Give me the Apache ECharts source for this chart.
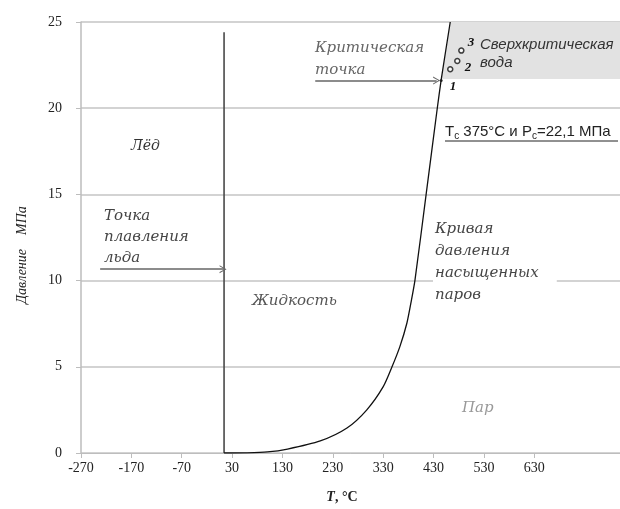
<!DOCTYPE html>
<html>
<head>
<meta charset="utf-8">
<script src="https://cdn.jsdelivr.net/npm/echarts@6/dist/echarts.min.js"></script>
<style>
  html, body { margin: 0; padding: 0; background: #fff; }
  #chart { width: 620px; height: 509px; }
</style>
</head>
<body>
<div id="chart"></div>
<script>
const xTicks = [-270, -170, -70, 30, 130, 230, 330, 430, 530, 630]
// saturated vapour pressure curve: T in °C, P in MPa
const curveT = [14, 60, 100, 140, 205, 258, 297, 330, 347, 363, 377, 386, 393, 415, 437, 445, 463]
const curveP = [0, 0.01, 0.06, 0.23, 0.7, 1.45, 2.49, 3.85, 4.97, 6.17, 7.54, 8.87, 10.03, 14.97, 19.94, 21.64, 25]
// melting line (ice / liquid)
const meltT = [14, 14]
const meltP = [0, 24.4]
// critical point and the supercritical states
const critT = [445]
const critP = [21.6]
const stateT = [463, 477, 485]
const stateP = [22.26, 22.74, 23.34]
// supercritical water region (grey)
const superT = [445.5, 463, 800, 800]
const superP = [21.7, 25, 25, 21.7]
// arrows: [fromT, toT, P]
const critArrow = [195, 436, 21.6]
const meltArrow = [-232, 12, 10.66]

const zip = (a, b) => a.map((v, i) => [v, b[i]])

const chart = echarts.init(document.getElementById('chart'))

const serif = 'italic 15px "DejaVu Serif"'
const chevron = 'path://M0,10 L5,0 L10,10 L8.6,10 L5,2.6 L1.4,10 Z'

const option = {
  animation: false,
  grid: { left: 81, right: 0, top: 22, bottom: 56 },
  xAxis: {
    type: 'value',
    min: -270,
    max: 800,
    interval: 100,
    splitLine: { show: false },
    axisLine: { lineStyle: { color: '#bdbdbd', width: 1 } },
    axisTick: { show: true, length: 5, lineStyle: { color: '#bdbdbd' }, customValues: xTicks },
    axisLabel: {
      customValues: xTicks,
      margin: 8,
      color: '#222',
      fontFamily: 'Liberation Serif',
      fontSize: 14
    }
  },
  yAxis: {
    type: 'value',
    min: 0,
    max: 25,
    interval: 5,
    axisLine: { show: true, onZero: false, lineStyle: { color: '#bdbdbd', width: 1.5 } },
    axisTick: { show: true, length: 5, lineStyle: { color: '#bdbdbd' } },
    splitLine: { lineStyle: { color: '#c4c4c4', width: 1.5 } },
    axisLabel: {
      margin: 19,
      color: '#222',
      fontFamily: 'Liberation Serif',
      fontSize: 14
    }
  },
  series: [
    {
      type: 'custom',
      silent: true,
      z: 1,
      renderItem: (params, api) => ({
        type: 'polygon',
        shape: { points: zip(superT, superP).map(p => api.coord(p)) },
        style: { fill: '#e2e2e2' }
      }),
      data: [[0, 0]]
    },
    {
      type: 'line',
      data: zip(meltT, meltP),
      symbol: 'none',
      lineStyle: { color: '#4a4a4a', width: 1.6 }
    },
    {
      type: 'line',
      data: zip(curveT, curveP),
      smooth: 0.25,
      symbol: 'none',
      lineStyle: { color: '#111', width: 1.3 },
      markLine: {
        silent: true,
        symbol: ['none', chevron],
        symbolSize: [8, 7],
        label: { show: false },
        lineStyle: { type: 'solid', color: '#666', width: 1.5 },
        data: [
          [{ coord: [critArrow[0], critArrow[2]] }, { coord: [critArrow[1], critArrow[2]] }],
          [{ coord: [meltArrow[0], meltArrow[2]] }, { coord: [meltArrow[1], meltArrow[2]] }]
        ]
      }
    },
    {
      type: 'scatter',
      data: zip(critT, critP),
      symbol: 'circle',
      symbolSize: 3,
      itemStyle: { color: '#111' }
    },
    {
      type: 'scatter',
      data: zip(stateT, stateP),
      symbol: 'circle',
      symbolSize: 5,
      itemStyle: { color: '#fff', borderColor: '#111', borderWidth: 1.5 }
    }
  ],
  graphic: [
    // axis names
    { type: 'text', x: 22, y: 255, rotation: Math.PI / 2, z: 100,
      style: { text: 'Давление    МПа', font: 'italic 14px "Liberation Serif"', fill: '#222', align: 'center', verticalAlign: 'middle' } },
    { type: 'text', x: 342, y: 497, z: 100,
      style: { text: '{i|T}{b|, °C}', align: 'center', verticalAlign: 'middle',
        rich: {
          i: { font: 'italic bold 14px "Liberation Serif"', fill: '#222' },
          b: { font: 'bold 14px "Liberation Serif"', fill: '#222' }
        } } },
    // region labels
    { type: 'text', x: 315, y: 59, z: 100,
      style: { text: 'Критическая\nточка', font: serif, fill: '#666', lineHeight: 22, verticalAlign: 'middle' } },
    { type: 'text', x: 480, y: 54, z: 100,
      style: { text: 'Сверхкритическая\nвода', font: 'italic 15px "Liberation Sans"', fill: '#333', lineHeight: 18, verticalAlign: 'middle' } },
    { type: 'text', x: 471, y: 43, z: 100,
      style: { text: '3', font: 'italic bold 13px "Liberation Serif"', fill: '#111', align: 'center', verticalAlign: 'middle' } },
    { type: 'text', x: 468, y: 68, z: 100,
      style: { text: '2', font: 'italic bold 13px "Liberation Serif"', fill: '#111', align: 'center', verticalAlign: 'middle' } },
    { type: 'text', x: 453, y: 87, z: 100,
      style: { text: '1', font: 'italic bold 13px "Liberation Serif"', fill: '#111', align: 'center', verticalAlign: 'middle' } },
    { type: 'text', x: 445, y: 132, z: 100,
      style: { text: 'T{s|c} 375°C и P{s|c}=22,1 МПа', font: '15px "Liberation Sans"', fill: '#222', verticalAlign: 'middle',
        rich: { s: { font: '10px "Liberation Sans"', fill: '#222', padding: [8, 0, 0, 0] } } } },
    { type: 'line', z: 100, shape: { x1: 445, y1: 141, x2: 618, y2: 141 }, style: { stroke: '#222', lineWidth: 1 } },
    { type: 'text', x: 131, y: 146, z: 100,
      style: { text: 'Лёд', font: 'italic 14px "DejaVu Serif"', fill: '#333', verticalAlign: 'middle' } },
    { type: 'text', x: 104, y: 237, z: 100,
      style: { text: 'Точка\nплавления\nльда', font: serif, fill: '#444', lineHeight: 21, verticalAlign: 'middle' } },
    { type: 'text', x: 252, y: 301, z: 100,
      style: { text: 'Жидкость', font: serif, fill: '#555', verticalAlign: 'middle' } },
    { type: 'text', x: 433, y: 262, z: 100,
      style: { text: 'Кривая\nдавления\nнасыщенных\nпаров', font: serif, fill: '#444', lineHeight: 22,
        verticalAlign: 'middle', backgroundColor: '#fff', padding: [0, 18, 0, 2] } },
    { type: 'text', x: 462, y: 408, z: 100,
      style: { text: 'Пар', font: serif, fill: '#999', verticalAlign: 'middle' } }
  ]
}

chart.setOption(option)
</script>
</body>
</html>
